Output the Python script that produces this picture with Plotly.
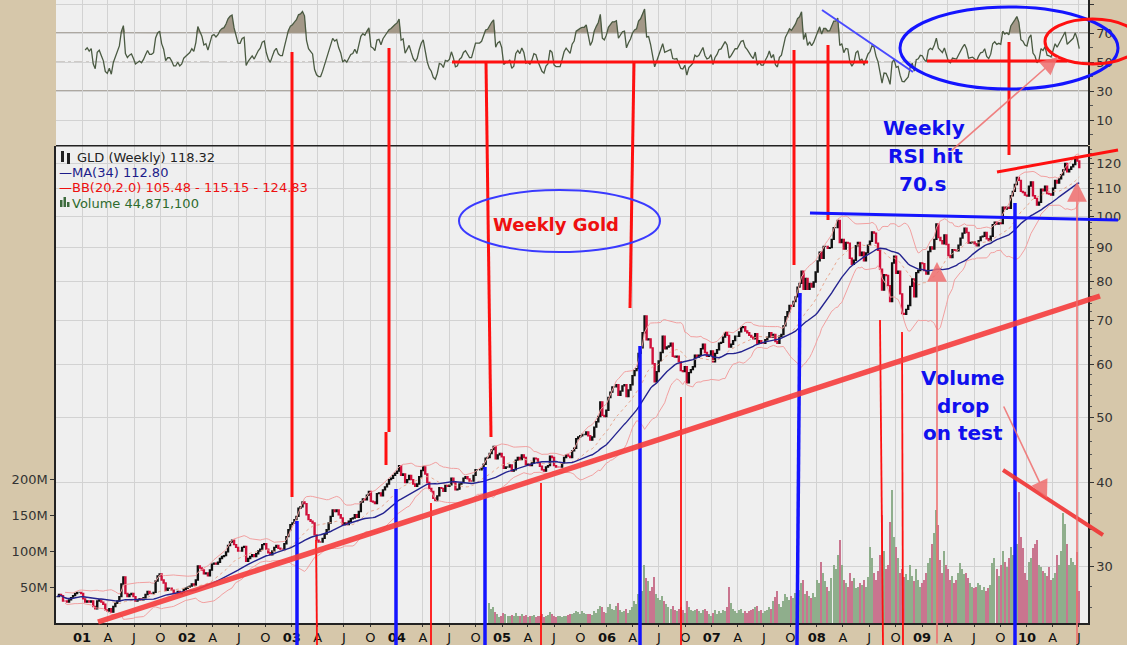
import numpy as np
import pandas as pd
import plotly.graph_objects as go

# ---------------- DATA (weekly closes, Fridays from 2000-10-06) ----------------
c2000 = [27.0, 27.2, 27.1, 26.6, 26.6, 26.5, 26.7, 26.9, 27.1, 27.3, 27.4, 27.4, 27.3]
c2001 = [26.8, 26.5, 26.6, 26.5, 26.6, 26.1, 25.9, 26.6, 26.7, 26.5, 26.3, 25.8, 25.7,
         25.9, 25.6, 26.1, 26.4, 26.6, 27.0, 28.2, 28.9, 27.3, 27.0, 27.2, 27.3, 27.0,
         26.6, 26.7, 26.8, 26.7, 26.9, 27.2, 27.5, 27.3, 27.3, 27.4, 28.5, 29.0, 29.2,
         28.6, 28.3, 27.6, 27.8, 27.8, 27.6, 27.3, 27.3, 27.5, 27.3, 27.4, 27.7, 27.8]
c2002 = [27.9, 28.0, 28.2, 28.1, 28.6, 30.0, 29.8, 29.6, 29.2, 29.3, 29.0, 29.6, 30.2,
         30.3, 30.2, 30.4, 30.8, 31.0, 31.1, 31.5, 32.2, 32.6, 32.8, 32.3, 32.0, 31.6,
         31.6, 32.0, 32.1, 30.5, 30.8, 31.0, 31.2, 31.0, 31.3, 31.6, 31.8, 32.3, 32.4,
         31.8, 31.4, 31.2, 31.6, 32.0, 32.2, 31.9, 31.8, 31.8, 32.4, 33.2, 34.0, 34.6]
c2003 = [34.8, 35.2, 35.6, 36.6, 36.8, 37.4, 37.2, 35.8, 35.2, 35.0, 34.8, 33.4, 32.8,
         32.6, 32.6, 33.0, 33.5, 34.0, 34.8, 35.6, 36.4, 36.2, 36.4, 35.8, 35.4, 34.6,
         34.8, 34.6, 35.0, 35.3, 35.4, 35.8, 35.5, 36.2, 37.4, 37.8, 37.7, 38.3, 38.8,
         37.5, 37.4, 37.2, 38.5, 38.6, 38.2, 39.0, 39.4, 39.8, 40.4, 40.6, 41.0, 41.3]
c2004 = [41.6, 42.4, 41.0, 41.2, 40.0, 40.4, 41.0, 40.4, 39.8, 39.5, 39.8, 40.8, 41.7,
         42.2, 41.2, 40.0, 39.2, 38.8, 37.9, 37.6, 38.2, 39.3, 39.2, 38.8, 39.6, 39.5,
         39.7, 40.6, 40.0, 39.0, 39.1, 39.8, 40.0, 40.6, 40.8, 40.5, 40.2, 40.2, 41.0,
         41.8, 41.8, 41.8, 42.0, 42.6, 43.5, 43.6, 44.2, 44.8, 45.3, 43.4, 44.0, 44.2, 43.7]
c2005 = [42.0, 42.2, 42.2, 42.5, 41.6, 41.8, 43.2, 43.6, 43.3, 44.0, 43.6, 42.5,
         42.6, 42.4, 42.8, 43.5, 43.4, 42.8, 42.3, 41.8, 41.6, 42.2, 42.4, 43.8, 43.6,
         42.4, 42.2, 42.2, 42.2, 42.8, 43.6, 44.0, 43.8, 43.6, 44.6, 45.0, 46.5, 46.8, 47.0,
         47.2, 47.2, 47.6, 47.0, 46.3, 46.8, 48.4, 49.3, 50.2, 52.8, 50.4, 50.2, 51.3]
c2006 = [53.6, 54.6, 55.6, 55.6, 56.0, 54.0, 54.8, 55.8, 56.0, 53.8, 55.0, 56.0, 57.8,
         58.8, 59.2, 62.4, 63.6, 67.0, 71.0, 65.4, 65.6, 63.6, 60.2, 56.6, 58.6, 60.8,
         62.6, 66.2, 63.4, 63.8, 64.0, 64.6, 61.8, 61.6, 61.8, 60.6, 58.8, 58.6, 59.6,
         56.4, 58.4, 59.0, 59.6, 62.0, 61.6, 62.0, 63.4, 64.4, 62.6, 61.8, 62.0, 62.9]
c2007 = [60.6, 62.4, 63.2, 64.6, 64.8, 66.0, 67.0, 66.4, 63.8, 64.4, 65.2, 66.2, 66.2,
         67.2, 68.2, 68.4, 67.4, 67.0, 66.4, 66.0, 65.6, 66.8, 64.6, 65.2, 64.6, 64.6,
         65.4, 66.0, 67.0, 66.0, 66.6, 65.0, 64.6, 66.2, 66.6, 68.6, 70.8, 72.0, 73.6,
         73.4, 74.6, 75.8, 78.4, 79.4, 82.8, 77.8, 80.8, 77.8, 79.4, 78.4, 79.8, 82.6]
c2008 = [85.8, 88.4, 86.6, 90.2, 90.2, 89.6, 89.8, 92.4, 96.2, 96.2, 98.6, 91.4, 92.4,
         89.4, 91.4, 91.2, 86.6, 84.8, 86.0, 90.4, 91.4, 87.4, 88.4, 85.8, 88.2, 90.6,
         91.8, 94.8, 94.4, 91.2, 89.0, 83.4, 77.6, 81.8, 81.6, 78.8, 74.6, 85.2, 87.2,
         82.2, 82.8, 76.6, 71.6, 71.4, 72.6, 73.6, 78.6, 80.6, 75.8, 82.4, 83.0, 85.2]
c2009 = [85.0, 83.0, 82.0, 88.6, 90.0, 89.4, 92.4, 97.4, 93.0, 92.0, 91.0, 93.8, 90.8,
         87.4, 86.8, 89.2, 89.0, 88.8, 90.6, 92.8, 94.4, 96.0, 94.6, 91.2, 91.4, 91.6,
         91.0, 90.4, 92.0, 93.2, 93.4, 94.6, 92.6, 92.0, 93.4, 97.2, 98.0, 97.4, 97.8,
         97.6, 103.2, 102.6, 103.2, 102.8, 107.4, 109.0, 111.6, 114.4, 113.2, 109.0, 108.6, 107.6]
c2010 = [107.3, 111.0, 112.6, 107.4, 106.4, 104.0, 105.0, 109.8, 109.2, 111.0, 108.2, 108.0, 107.6,
         110.2, 113.2, 112.2, 113.8, 115.4, 117.4, 120.0, 116.6, 117.6, 118.6, 119.6, 122.6, 121.0,
         118.3]

# weekly volume in millions, GLD from 2004-11-19
v2004 = [28, 20, 22, 15, 12, 8, 9]
v2005 = [14, 12, 10, 9, 11, 9, 14, 10, 10, 12, 9, 11, 8, 9, 10, 11, 8, 9, 10, 12, 8,
         10, 11, 15, 12, 9, 8, 10, 9, 8, 10, 9, 11, 12, 12, 14, 17, 15, 13, 16, 14, 12, 13,
         12, 11, 16, 14, 20, 24, 22, 15, 14]
v2006 = [22, 26, 20, 18, 24, 28, 18, 15, 16, 20, 14, 18, 22, 30, 26, 40, 35, 45, 80, 62, 58,
         44, 50, 64, 40, 35, 32, 38, 30, 26, 22, 20, 24, 18, 16, 20, 22, 18, 14, 30, 22, 18, 16,
         18, 20, 16, 14, 18, 20, 16, 12, 10]
v2007 = [14, 18, 12, 16, 14, 18, 16, 22, 50, 28, 20, 16, 14, 18, 20, 14, 16, 14, 16, 18, 20,
         22, 24, 16, 18, 14, 16, 18, 22, 20, 30, 36, 44, 26, 22, 30, 40, 36, 32, 38, 34, 42, 48,
         46, 56, 60, 40, 44, 38, 34, 42, 36]
v2008 = [60, 55, 85, 70, 58, 50, 45, 62, 80, 75, 95, 115, 80, 60, 55, 50, 70, 58, 62, 48, 50,
         56, 52, 60, 50, 64, 106, 90, 70, 60, 72, 95, 150, 100, 75, 80, 140, 185, 120, 106, 90,
         70, 75, 64, 68, 60, 80, 65, 58, 75, 60, 50]
v2009 = [55, 60, 70, 83, 90, 110, 125, 157, 136, 88, 70, 100, 80, 75, 60, 65, 55, 60, 70, 83,
         75, 68, 70, 62, 55, 50, 48, 50, 55, 52, 46, 50, 45, 48, 52, 83, 90, 75, 65, 80, 100,
         85, 78, 90, 106, 95, 120, 110, 182, 120, 104, 70]
v2010 = [60, 85, 90, 104, 110, 115, 80, 78, 72, 70, 65, 78, 60, 62, 70, 95, 80, 100, 152, 138,
         110, 80, 90, 85, 80, 99, 45]

rsi_ticks = [10, 30, 50, 70, 90]
price_ticks = [30, 40, 50, 60, 70, 80, 90, 100, 110, 120]
vol_ticks = [50e6, 100e6, 150e6, 200e6]
vol_tick_text = ["50M", "100M", "150M", "200M"]

assert [len(c) for c in (c2000, c2001, c2002, c2003, c2004, c2005, c2006, c2007, c2008, c2009, c2010)] == \
    [13, 52, 52, 52, 53, 52, 52, 52, 52, 52, 27]
close = c2000 + c2001 + c2002 + c2003 + c2004 + c2005 + c2006 + c2007 + c2008 + c2009 + c2010
volume = v2004 + v2005 + v2006 + v2007 + v2008 + v2009 + v2010
assert len(volume) == 294

dates = pd.date_range("2000-10-06", periods=len(close), freq="W-FRI")
s = pd.Series(close, index=dates)
opens = s.shift(1).fillna(s.iloc[0])
highs = np.maximum(opens, s)
lows = np.minimum(opens, s)

ma34 = s.rolling(34, min_periods=1).mean()
bb_mid = s.rolling(20, min_periods=5).mean()
bb_sd = s.rolling(20, min_periods=5).std(ddof=0)
bb_up = bb_mid + 2 * bb_sd
bb_lo = bb_mid - 2 * bb_sd

d = s.diff()
gain = d.clip(lower=0).ewm(alpha=1 / 14, adjust=False).mean()
loss = (-d).clip(lower=0).ewm(alpha=1 / 14, adjust=False).mean()
rsi = 100 - 100 / (1 + gain / loss)
rsi.iloc[:14] = np.nan
rsi_hi = np.where(np.isnan(rsi), np.nan, np.maximum(rsi, 70))

vol_dates = dates[-len(volume):]
vol_close = s.iloc[-len(volume):]
vol_prev = s.shift(1).iloc[-len(volume):]
vol_colors = ["#8fae8c" if c >= p else "#c9758f" for c, p in zip(vol_close, vol_prev)]

# ---------------- STYLE / GEOMETRY ----------------
BEIGE = "#d6c7aa"
PLOTBG = "#efefef"
GRID = "#d2d2d2"
FONT = "DejaVu Sans"
PL, PR, PT, PB = 56, 1088, 0, 623


def px(x):
    return (x - PL) / (PR - PL)


def py(y):
    return (PB - y) / (PB - PT)


ppd = 105 / 365.25
x_left = pd.Timestamp("2001-01-01") - pd.Timedelta(days=26 / ppd)
x_right = x_left + pd.Timedelta(days=(PR - PL) / ppd)

qdates = pd.date_range("2001-01-01", "2010-07-01", freq="QS")
qlabels = [f"<b>{d.year % 100:02d}</b>" if d.month == 1 else {4: "A", 7: "J", 10: "O"}[d.month] for d in qdates]

fig = go.Figure()

fig.add_trace(go.Bar(x=vol_dates, y=np.array(volume) * 1e6, marker=dict(color=vol_colors, line=dict(width=0)),
                     width=5.2 * 86400000, xaxis="x", yaxis="y2", hoverinfo="skip"))
fig.add_trace(go.Scatter(x=dates, y=bb_up, mode="lines", line=dict(color="#f2a0a0", width=1), xaxis="x", yaxis="y3"))
fig.add_trace(go.Scatter(x=dates, y=bb_lo, mode="lines", line=dict(color="#f2a0a0", width=1), xaxis="x", yaxis="y3"))
fig.add_trace(go.Scatter(x=dates, y=bb_mid, mode="lines", line=dict(color="#e8a890", width=1, dash="dot"), xaxis="x", yaxis="y3"))
fig.add_trace(go.Scatter(x=dates, y=ma34, mode="lines", line=dict(color="#23238f", width=1.4), xaxis="x", yaxis="y3"))
fig.add_trace(go.Candlestick(x=dates, open=opens, high=highs, low=lows, close=s, xaxis="x", yaxis="y3",
                             increasing=dict(line=dict(color="#111111", width=1.4), fillcolor="#111111"),
                             decreasing=dict(line=dict(color="#d0103a", width=1.4), fillcolor="#d0103a"),
                             whiskerwidth=0))

fig.add_trace(go.Scatter(x=dates, y=[70] * len(dates), mode="lines", line=dict(width=0, color="rgba(0,0,0,0)"),
                         xaxis="x2", yaxis="y4"))
fig.add_trace(go.Scatter(x=dates, y=rsi_hi, mode="lines", line=dict(width=0, color="rgba(0,0,0,0)"),
                         fill="tonexty", fillcolor="#a39888", xaxis="x2", yaxis="y4"))
fig.add_trace(go.Scatter(x=dates, y=rsi, mode="lines", line=dict(color="#4a5a42", width=1.3), xaxis="x2", yaxis="y4"))

shapes = []


def line(x0, y0, x1, y1, color, width, dash=None):
    shapes.append(dict(type="line", xref="paper", yref="paper", x0=px(x0), y0=py(y0), x1=px(x1), y1=py(y1),
                       line=dict(color=color, width=width, dash=dash)))


def ellipse(x0, y0, x1, y1, color, width):
    shapes.append(dict(type="circle", xref="paper", yref="paper", x0=px(x0), y0=py(y1), x1=px(x1), y1=py(y0),
                       line=dict(color=color, width=width)))


# RSI reference lines
for lvl, dash, w in [(70, None, 1.5), (30, None, 1.5), (50, "dashdot", 1.2)]:
    shapes.append(dict(type="line", xref="paper", yref="y4", x0=0, x1=1, y0=lvl, y1=lvl, layer="between",
                       line=dict(color="#6d6255", width=w, dash=dash)))
# panel separator
line(PL, 145.8, PR, 145.8, "#222222", 1.5)

RED = "#ff1010"
BLUE = "#1414ff"
SALMON = "rgba(240,110,110,0.85)"
# thick red verticals
line(292, 52, 292, 497, RED, 3)
line(389, 48, 389, 432, RED, 3)
line(386, 432, 386, 465, RED, 3)
line(486, 62, 491, 437, RED, 3)
line(634, 62, 630, 308, RED, 3)
line(794, 50, 794, 265, RED, 3)
line(828, 45, 828, 220, RED, 3)
line(1009, 42, 1009, 155, RED, 3)
# thin red verticals
for x0, y0, x1 in [(316, 540, 317), (431, 503, 431), (541, 483, 541), (681, 397, 681), (880, 320, 883), (902, 332, 903)]:
    line(x0, y0, x1, 645, RED, 1.8)
# blue verticals
for x0, y0, x1 in [(297, 521, 297), (396, 489, 396), (485, 467, 485), (640, 346, 640), (800, 293, 797), (1015, 203, 1015)]:
    line(x0, y0, x1, 645, BLUE, 3.5)
# RSI horizontal red lines and blue diagonal
line(452, 62, 868, 62, RED, 3)
line(927, 61, 1067, 61, RED, 3)
line(822, 10, 913, 72, "#4a4aff", 2)
# ellipses
ellipse(900, 7, 1118, 89, BLUE, 3)
ellipse(1045, 19, 1140, 64, RED, 3)
ellipse(459, 190, 660, 252, "#3a3aff", 2)
# price panel lines
line(98, 622, 1100, 296, "rgba(245,60,60,0.9)", 5.5)
line(997, 172, 1118, 150, RED, 3)
line(810, 213, 1118, 220, BLUE, 3)
line(1003, 470, 1103, 535, "rgba(240,50,50,0.9)", 4)

# legend icons
shapes.append(dict(type="rect", xref="paper", yref="paper", x0=px(61), x1=px(64), y0=py(162), y1=py(151),
                   fillcolor="#222", line=dict(width=0)))
shapes.append(dict(type="rect", xref="paper", yref="paper", x0=px(67), x1=px(70), y0=py(164), y1=py(153),
                   fillcolor="#222", line=dict(width=0)))
for (a, b, top) in [(60, 62.5, 200), (63.5, 66, 197), (67, 69.5, 202)]:
    shapes.append(dict(type="rect", xref="paper", yref="paper", x0=px(a), x1=px(b), y0=py(207), y1=py(top),
                       fillcolor="#3d6b3d", line=dict(width=0)))

annotations = []


def text(x, y, t, color, size, bold=False, xanchor="center", pad=1):
    annotations.append(dict(xref="paper", yref="paper", x=px(x), y=py(y), text=f"<b>{t}</b>" if bold else t,
                            showarrow=False, xanchor=xanchor, yanchor="middle", borderpad=pad,
                            font=dict(family=FONT, size=size, color=color)))


def arrow(hx, hy, tx, ty, color, width, size):
    annotations.append(dict(xref="paper", yref="paper", x=px(hx), y=py(hy), ax=tx - hx, ay=ty - hy,
                            axref="pixel", ayref="pixel", text="", showarrow=True, arrowhead=2,
                            arrowsize=size, arrowwidth=width, arrowcolor=color, standoff=0))


text(76, 157, "GLD (Weekly) 118.32", "#222222", 13, xanchor="left", pad=0)
text(58, 172.5, "—MA(34) 112.80", "#1c1c8a", 13, xanchor="left", pad=0)
text(58, 188, "—BB(20,2.0) 105.48 - 115.15 - 124.83", "#ee1010", 13, xanchor="left", pad=0)
text(71, 203.5, "Volume 44,871,100", "#2e6b2e", 13, xanchor="left", pad=0)

text(556, 224, "Weekly Gold", "#ee1010", 18, bold=True)
text(924, 128, "Weekly", "#1010ee", 20, bold=True)
text(925, 156, "RSI hit", "#1010ee", 20, bold=True)
text(922, 184, "70.s", "#1010ee", 20, bold=True)
text(963, 378, "Volume", "#1010ee", 20, bold=True)
text(963, 406, "drop", "#1010ee", 20, bold=True)
text(963, 433, "on test", "#1010ee", 20, bold=True)

arrow(1058, 57, 950, 152, SALMON, 1.6, 2.2)
arrow(937, 262, 937, 645, SALMON, 1.8, 2.2)
arrow(1077, 182, 1077, 645, SALMON, 1.8, 2.2)
arrow(1047, 498, 1003, 405, SALMON, 1.6, 2.2)

minor_price = [v for v in range(26, 128, 2) if v not in price_ticks]

fig.update_layout(
    width=1127, height=645, autosize=False,
    margin=dict(l=PL, r=1127 - PR, t=PT, b=645 - PB, pad=0),
    paper_bgcolor=BEIGE, plot_bgcolor=PLOTBG, showlegend=False,
    font=dict(family=FONT, size=13, color="#222222"),
    bargap=0,
    xaxis=dict(domain=[0, 1], anchor="y2", range=[x_left, x_right], tickmode="array", tickvals=qdates,
               ticktext=qlabels, showgrid=True, gridcolor=GRID, gridwidth=1, ticks="outside", ticklen=2,
               tickcolor="#333333", showline=True, linecolor="#222222", linewidth=1.5, automargin=False,
               tickfont=dict(family=FONT, size=13, color="#111111"), rangeslider=dict(visible=False),
               zeroline=False),
    xaxis2=dict(anchor="y4", matches="x", range=[x_left, x_right], showticklabels=False, tickmode="array",
                tickvals=qdates, showgrid=True, gridcolor=GRID, ticks="", showline=False, zeroline=False,
                automargin=False, rangeslider=dict(visible=False)),
    yaxis2=dict(domain=[0, 0.7655], anchor="x", range=[0, 662.5e6], tickmode="array", tickvals=vol_ticks,
                ticktext=vol_tick_text, side="left", showgrid=False, ticks="outside", ticklen=4,
                tickcolor="#333333", showline=True, linecolor="#222222", linewidth=1.5, zeroline=False,
                automargin=False, tickfont=dict(family=FONT, size=13, color="#333333")),
    yaxis3=dict(overlaying="y2", anchor="x", side="right", type="log", range=[np.log10(24.66), np.log10(127.4)],
                tickmode="array", tickvals=price_ticks, ticktext=[str(v) for v in price_ticks],
                showgrid=True, gridcolor=GRID, ticks="outside", ticklen=4, tickcolor="#333333",
                showline=True, linecolor="#222222", linewidth=1.5, zeroline=False, automargin=False,
                tickfont=dict(family=FONT, size=13, color="#333333"),
                minor=dict(tickmode="array", tickvals=minor_price, ticks="outside", ticklen=2,
                           tickcolor="#555555", showgrid=False)),
    yaxis4=dict(domain=[0.7665, 1], anchor="x2", side="right", range=[-7.5, 93], tickmode="array",
                tickvals=rsi_ticks, showgrid=True, gridcolor=GRID, ticks="outside", ticklen=4,
                tickcolor="#333333", showline=True, linecolor="#222222", linewidth=1.5, zeroline=False,
                automargin=False, tickfont=dict(family=FONT, size=13, color="#333333"),
                minor=dict(tickmode="array", tickvals=[0, 20, 40, 60, 80], ticks="outside", ticklen=3,
                           tickcolor="#555555", showgrid=False)),
    shapes=shapes, annotations=annotations,
)

fig.write_html("out.html", config={"displayModeBar": False},
               post_script="document.body.style.margin='0';document.body.style.padding='0';"
                           "document.body.style.overflow='hidden';")
